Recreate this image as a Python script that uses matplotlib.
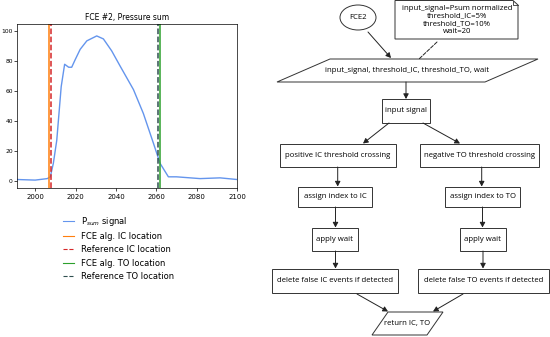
import matplotlib.pyplot as plt
from matplotlib.patches import Rectangle, Ellipse, Polygon, FancyArrowPatch

# signal data
frame = [1991, 2000, 2006, 2007.5, 2009, 2010.7, 2012.9, 2014.6, 2016.6, 2018.1,
         2019.8, 2022.3, 2025.6, 2030.5, 2033.8, 2037.9, 2042, 2048.7, 2053.6,
         2058.6, 2061.9, 2066, 2070, 2081.7, 2091.6, 2100]
psum = [0.7, 0.3, 1.3, 2.5, 11.5, 27, 63, 78, 76, 76,
        81, 88, 93.7, 97, 95, 87, 77, 61, 45,
        25, 11.5, 2.5, 2.5, 1.3, 1.8, 0.7]
ic_alg, ic_ref = 2006.8, 2007.8
to_alg, to_ref = 2062.0, 2061.0

fig = plt.figure(figsize=(5.5, 3.37), dpi=100)
ax = fig.add_axes([17 / 550, 1 - 188 / 337, 220 / 550, 164 / 337])
ax.plot(frame, psum, color="cornflowerblue", lw=1.0, label="P$_{sum}$ signal")
ax.axvline(ic_alg, color="tab:orange", lw=1.1, label="FCE alg. IC location")
ax.axvline(ic_ref, color="tab:red", lw=1.1, ls="--", label="Reference IC location")
ax.axvline(to_alg, color="tab:green", lw=1.1, label="FCE alg. TO location")
ax.axvline(to_ref, color="darkslategray", lw=1.1, ls="--", label="Reference TO location")
ax.set_xlim(1991, 2100)
ax.set_ylim(-5, 105)
ax.set_title("FCE #2, Pressure sum", fontsize=5.5, pad=3)
ax.tick_params(axis="x", labelsize=5, length=2, width=0.5, pad=2)
ax.tick_params(axis="y", labelsize=4.3, length=2, width=0.5, pad=1)
for s in ax.spines.values():
    s.set_linewidth(0.5)
leg = ax.legend(loc="upper left", bbox_to_anchor=(63 / 550, 1 - 215 / 337),
                bbox_transform=fig.transFigure, frameon=False, fontsize=6,
                handlelength=1.3, handletextpad=0.9, borderpad=0, borderaxespad=0,
                labelspacing=0.5)
for h in leg.get_lines():
    h.set_linewidth(0.8)

# flowchart in pixel coordinates
fc = fig.add_axes([0, 0, 1, 1])
fc.set_xlim(0, 550)
fc.set_ylim(337, 0)
fc.axis("off")
fs = 5.6
kw = dict(fill=False, lw=0.7, ec="#333333")

def box(x0, y0, x1, y1, text):
    fc.add_patch(Rectangle((x0, y0), x1 - x0, y1 - y0, **kw))
    fc.text((x0 + x1) / 2, (y0 + y1) / 2, text, ha="center", va="center",
            fontsize=fs, family="Open Sans")

def para(top, bot, y0, y1, text):
    fc.add_patch(Polygon([(top[0], y0), (top[1], y0), (bot[1], y1), (bot[0], y1)], **kw))
    fc.text((top[0] + bot[1]) / 2, (y0 + y1) / 2, text, ha="center", va="center",
            fontsize=fs, family="Open Sans")

def arrow(p, q, ls="-", head=True):
    fc.add_patch(FancyArrowPatch(p, q, arrowstyle="-|>,head_length=3,head_width=1.6" if head else "-",
                                 lw=0.7, color="#222222", ls=ls, shrinkA=0, shrinkB=0,
                                 mutation_scale=1))

fc.add_patch(Ellipse((358, 17.5), 36, 25, **kw))
fc.text(358, 17.5, "FCE2", ha="center", va="center", fontsize=fs, family="Open Sans")

# note with folded corner
fc.add_patch(Polygon([(395, 0.5), (513, 0.5), (518, 5), (518, 39), (395, 39)], **kw))
fc.plot([513, 513, 518], [0.5, 5, 5], color="#333333", lw=0.6)
fc.text(457, 20, "input_signal=Psum normalized\nthreshold_IC=5%\nthreshold_TO=10%\nwait=20",
        ha="center", va="center", fontsize=fs, family="Open Sans", linespacing=1.1)

para((330, 538), (277, 485), 59, 82, "input_signal, threshold_IC, threshold_TO, wait")
arrow((368, 32), (391, 58))
arrow((437, 42), (419, 59), ls="--", head=False)
arrow((406, 82), (406, 99))

box(382, 99, 430, 123, "input signal")
arrow((389, 123), (363, 143.5))
arrow((423, 123), (460, 143.5))

box(280, 144, 396, 167, "positive IC threshold crossing")
box(420, 144, 539, 167, "negative TO threshold crossing")
arrow((337.7, 167), (337.7, 186.5))
arrow((481.7, 167), (481.7, 186.5))

box(298, 187, 372, 207, "assign index to IC")
box(445, 187, 520, 207, "assign index to TO")
arrow((335.5, 207), (335.5, 227.5))
arrow((482.5, 207), (482.5, 227.5))

box(312, 228, 358, 251, "apply wait")
box(460, 228, 506, 251, "apply wait")
arrow((335.5, 251), (335.5, 268.5))
arrow((483, 251), (483, 268.5))

box(272, 269, 398, 293, "delete false IC events if detected")
box(418, 269, 549, 293, "delete false TO events if detected")
arrow((357, 294), (388, 311.5))
arrow((463, 294), (433, 311.5))

para((388, 443), (372, 427), 312, 335, "return IC, TO")

fig.savefig("out.png", dpi=100)
